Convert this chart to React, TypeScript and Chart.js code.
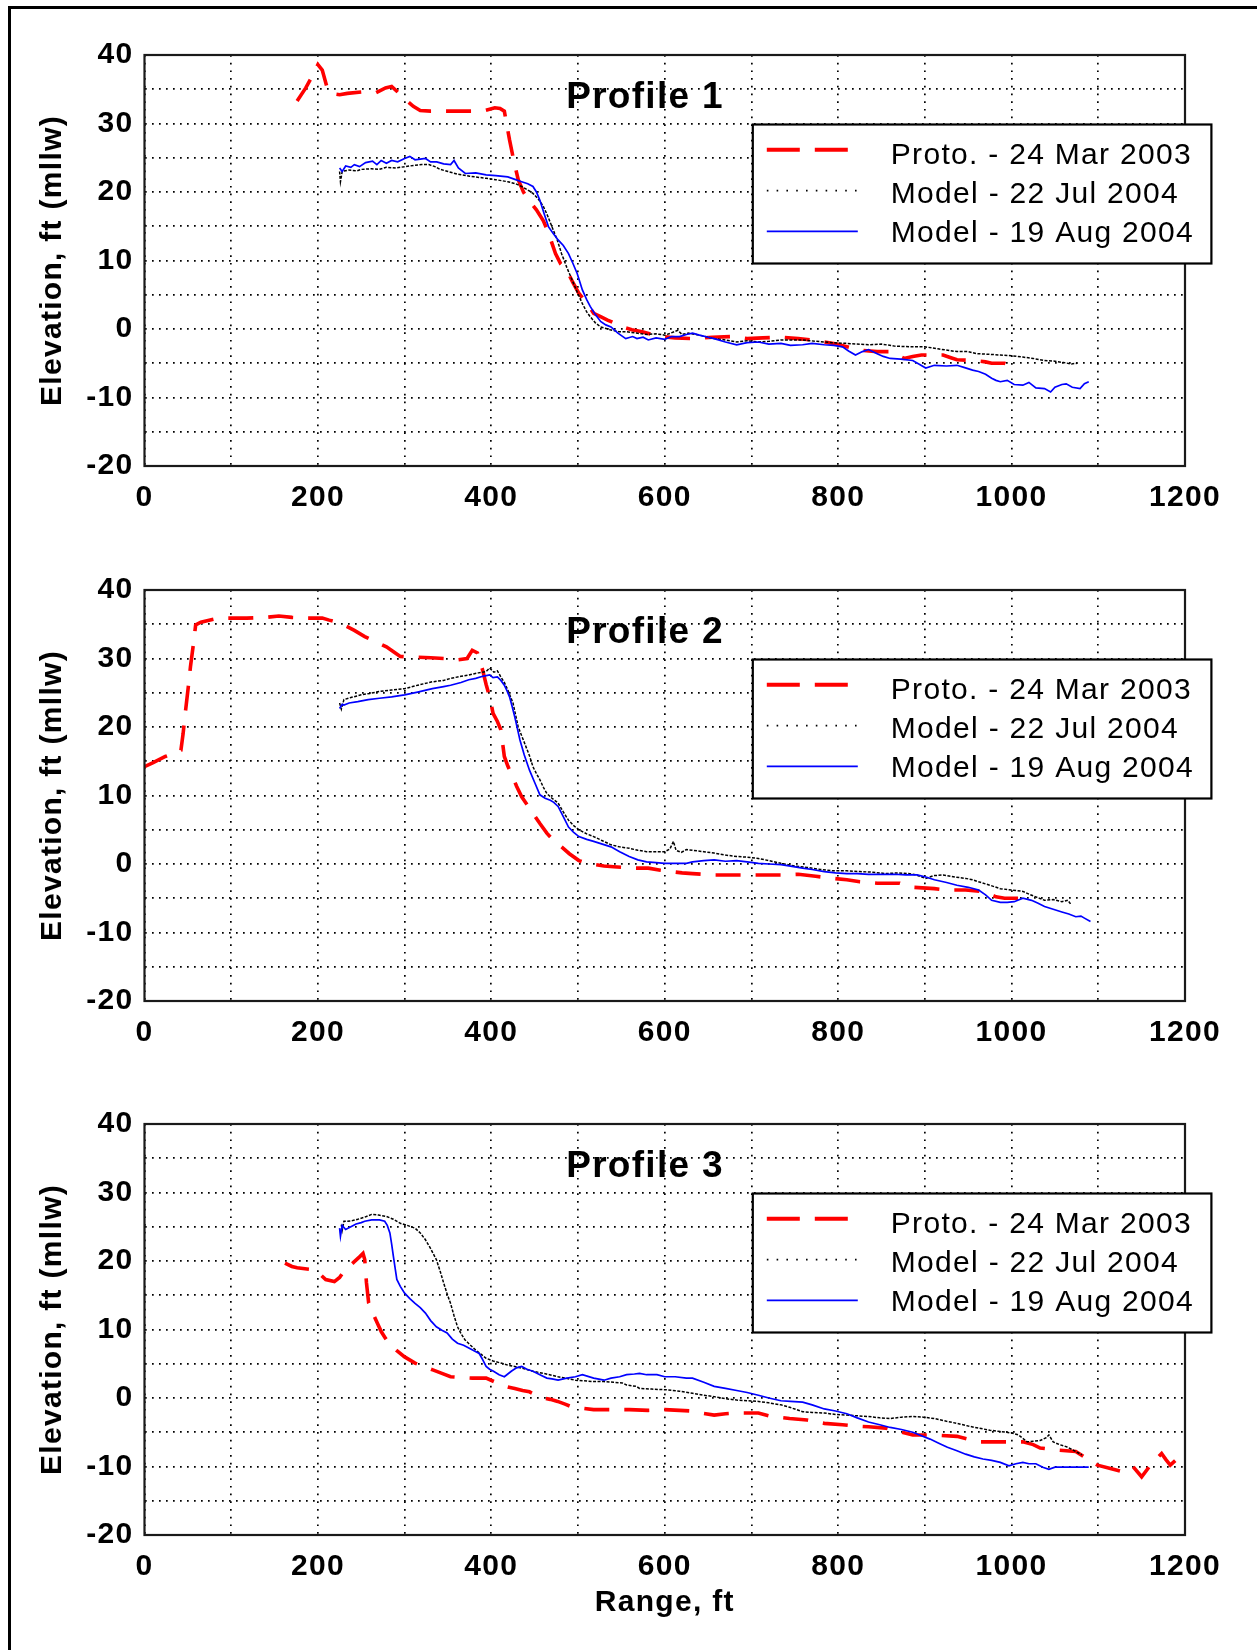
import React, { useEffect, useRef } from 'react';
import { Chart, registerables } from 'chart.js';

Chart.register(...registerables);

type Pt = [number, number];

const FONT = '"Liberation Sans", Arial, Helvetica, sans-serif';

const seriesLabels = ['Proto. - 24 Mar 2003', 'Model - 22 Jul 2004', 'Model - 19 Aug 2004'];
const seriesColors = ['#ff0000', '#000000', '#0000ff'];
const profileTitles = ['Profile 1', 'Profile 2', 'Profile 3'];
const xTickLabels = [0, 200, 400, 600, 800, 1000, 1200];
const yTickLabels = [-20, -10, 0, 10, 20, 30, 40];
const xAxisTitle = 'Range, ft';
const yAxisTitle = 'Elevation, ft (mllw)';

// ---------------- Profile 1 ----------------
const p1Proto: Pt[] = [
  [176, 33.3], [186, 35.2], [196, 37.5], [200, 38.6], [205, 37.8], [210, 35.5], [214, 34.4], [225, 34.2],
  [234, 34.4], [250, 34.6], [267, 34.5], [278, 35.2], [285, 35.4], [292, 34.6], [300, 33.6], [310, 32.5],
  [318, 31.9], [330, 31.8], [360, 31.8], [390, 31.8], [404, 32.3], [410, 32.2], [415, 31.8], [421, 27.6],
  [426, 24.5], [431, 21.8], [437, 20], [443, 18.8], [452, 17.4], [460, 15.8], [466, 14], [474, 11],
  [480, 9.5], [487, 8.6], [494, 6.8], [501, 5.2], [510, 3.8], [518, 2.3], [526, 1.8], [534, 1.3],
  [543, 0.8], [551, 0.3], [562, -0.1], [574, -0.4], [585, -0.8], [596, -1.1], [612, -1.3], [632, -1.4],
  [655, -1.2], [678, -1.1], [695, -1.4], [713, -1.3], [735, -1.2], [754, -1.4], [770, -1.6], [784, -1.9],
  [798, -2.2], [810, -2.6], [825, -3.1], [845, -3.3], [860, -3.3], [868, -3.8], [876, -4.3], [886, -4.0],
  [896, -3.8], [921, -3.8], [930, -4.2], [937, -4.5], [957, -4.6], [970, -4.8], [977, -5], [992, -5],
  [1000, -5.4],
];
const p1Jul: Pt[] = [
  [225, 23.0], [226, 21.5], [228, 23.0], [235, 23.2], [245, 23.1], [250, 23.3], [262, 23.4], [270, 23.3],
  [279, 23.6], [290, 23.5], [300, 23.7], [312, 23.9], [320, 24.0], [328, 24.0], [335, 23.7], [341, 23.3],
  [350, 23.0], [361, 22.6], [375, 22.3], [394, 22.0], [405, 21.8], [419, 21.5], [428, 21.2], [435, 20.8],
  [442, 20.3], [448, 19.8], [454, 19.0], [460, 17.9], [465, 16.5], [470, 14.9], [476, 13], [481, 11],
  [487, 9.0], [493, 7.2], [499, 5.4], [505, 3.7], [510, 2.5], [514, 1.8], [520, 0.9], [526, 0.3],
  [537, -0.1], [547, -0.4], [556, -0.4], [567, -0.6], [580, -0.8], [590, -0.7], [600, -0.9], [607, -0.6],
  [615, -0.2], [620, -0.8], [627, -0.6], [640, -0.9], [657, -1.4], [670, -1.6], [683, -1.9], [695, -1.7],
  [708, -1.9], [720, -1.8], [735, -1.6], [759, -1.6], [775, -1.8], [794, -2.0], [810, -2.1], [835, -2.3],
  [850, -2.2], [865, -2.5], [886, -2.6], [900, -2.6], [915, -2.9], [937, -3.3], [950, -3.3], [960, -3.6],
  [975, -3.7], [987, -3.8], [1000, -3.9], [1013, -4.1], [1025, -4.3], [1038, -4.6], [1050, -4.7], [1060, -4.9],
  [1069, -5.1], [1076, -5.0],
];
const p1Aug: Pt[] = [
  [225, 23.5], [228, 23.0], [232, 23.8], [238, 23.6], [242, 24.0], [248, 23.7], [255, 24.3], [263, 24.5],
  [268, 24.0], [273, 24.6], [279, 24.2], [285, 24.6], [292, 24.4], [300, 24.9], [306, 25.2], [312, 24.7],
  [318, 24.8], [324, 24.9], [330, 24.4], [337, 24.4], [345, 24.1], [353, 24.0], [357, 24.6], [362, 23.5],
  [370, 22.7], [382, 22.8], [394, 22.5], [405, 22.4], [419, 22.2], [428, 21.8], [435, 21.5], [442, 21.2],
  [448, 20.8], [452, 20.0], [456, 18.8], [461, 16.8], [466, 14.9], [471, 14.0], [477, 13.0], [483, 12.2],
  [489, 11.0], [494, 9.6], [499, 8.1], [505, 5.7], [510, 4.3], [514, 3.3], [520, 2.1], [526, 1.1],
  [532, 0.6], [538, 0.3], [546, -0.6], [555, -1.4], [563, -1.1], [568, -1.4], [575, -1.2], [581, -1.6],
  [590, -1.3], [600, -1.5], [608, -1.1], [617, -1.1], [625, -0.8], [632, -0.6], [640, -0.9], [650, -1.2],
  [657, -1.4], [670, -1.9], [683, -2.3], [695, -2.0], [708, -1.9], [720, -2.2], [734, -2.1], [745, -2.4],
  [759, -2.3], [770, -2.1], [784, -2.3], [795, -2.4], [805, -2.6], [812, -3.2], [820, -3.8], [828, -3.3],
  [835, -3.0], [845, -3.6], [852, -4.0], [860, -4.3], [872, -4.4], [886, -4.6], [893, -5.1], [901, -5.7],
  [911, -5.3], [925, -5.4], [937, -5.3], [945, -5.6], [955, -6.0], [962, -6.2], [970, -6.6], [977, -7.2],
  [982, -7.5], [987, -7.7], [995, -7.5], [1003, -8.1], [1013, -8.2], [1020, -7.8], [1028, -8.6], [1038, -8.7],
  [1045, -9.2], [1050, -8.5], [1058, -8.1], [1063, -8.0], [1070, -8.5], [1079, -8.7], [1084, -8.0], [1089, -7.7],
];

// ---------------- Profile 2 ----------------
const p2Proto: Pt[] = [
  [0, 14.2], [10, 14.8], [24, 15.7], [35, 16.2], [42, 16.6], [44.5, 19], [47, 22], [51, 26.4],
  [53, 28.8], [56, 31.7], [59, 34.9], [65, 35.3], [86, 35.9], [118, 35.9], [140, 36.0], [155, 36.2],
  [170, 36.0], [188, 35.9], [205, 35.9], [213, 35.6], [222, 35.3], [230, 34.9], [242, 34.1], [254, 33.2],
  [266, 32.5], [279, 31.7], [288, 30.9], [295, 30.3], [312, 30.2], [330, 30.1], [345, 30.0], [361, 29.8],
  [372, 30.0], [378, 31.2], [384, 30.8], [390, 28.3], [394, 26.2], [398, 24.4], [402, 22.0], [407, 20.8],
  [411, 19.6], [415, 15.7], [419, 14.3], [423, 13.2], [429, 11.4], [435, 9.8], [442, 8.5], [448, 7.4],
  [456, 5.9], [464, 4.5], [472, 3.4], [481, 2.5], [490, 1.5], [501, 0.5], [510, 0.1], [520, -0.1],
  [530, -0.3], [541, -0.4], [561, -0.6], [581, -0.6], [595, -0.9], [607, -1.1], [620, -1.3], [632, -1.4],
  [657, -1.6], [683, -1.6], [708, -1.6], [734, -1.6], [754, -1.5], [774, -1.8], [794, -2.1], [810, -2.3],
  [825, -2.6], [845, -2.8], [871, -2.8], [886, -3.4], [911, -3.6], [926, -3.8], [947, -3.8], [967, -4.0],
  [982, -4.8], [992, -5.0], [1008, -5.0],
];
const p2Jul: Pt[] = [
  [225, 23.5], [227, 22.6], [230, 24.0], [238, 24.3], [250, 24.7], [260, 24.9], [271, 25.2], [285, 25.4],
  [300, 25.6], [315, 26.1], [332, 26.6], [345, 26.8], [353, 27.1], [365, 27.4], [374, 27.6], [385, 27.9],
  [394, 28.1], [398, 28.6], [403, 28.0], [407, 28.2], [411, 27.3], [415, 26.5], [419, 25.4], [425, 23.5],
  [431, 20.0], [436, 18.4], [440, 17.1], [444, 15.8], [448, 14.2], [452, 13.2], [456, 12.3], [460, 11.2],
  [464, 10.3], [470, 9.6], [477, 8.9], [483, 7.6], [489, 6.4], [495, 5.6], [501, 5.0], [510, 4.4],
  [518, 4.0], [528, 3.4], [538, 2.8], [548, 2.5], [559, 2.3], [569, 2.0], [579, 1.8], [590, 1.8],
  [600, 1.8], [606, 2.2], [610, 3.3], [613, 2.0], [619, 1.7], [625, 2.1], [632, 2.0], [645, 1.8],
  [657, 1.6], [670, 1.3], [683, 1.1], [695, 1.0], [708, 0.8], [720, 0.5], [734, 0.1], [750, -0.3],
  [764, -0.5], [780, -0.8], [794, -1.0], [810, -1.0], [825, -1.1], [840, -1.2], [855, -1.4], [870, -1.3],
  [881, -1.4], [890, -1.6], [901, -2.1], [910, -1.7], [921, -1.6], [935, -1.9], [947, -2.1], [955, -2.3],
  [962, -2.6], [975, -3.1], [987, -3.6], [1000, -3.8], [1013, -4.0], [1020, -4.4], [1028, -4.8], [1038, -5.3],
  [1048, -5.2], [1058, -5.5], [1065, -5.3], [1069, -6.0],
];
const p2Aug: Pt[] = [
  [225, 22.7], [228, 23.3], [230, 23.2], [236, 23.5], [246, 23.7], [258, 24.0], [271, 24.2], [285, 24.4],
  [300, 24.7], [315, 25.1], [332, 25.6], [345, 25.9], [353, 26.1], [365, 26.5], [374, 26.9], [382, 27.1],
  [390, 27.4], [398, 27.6], [402, 27.2], [407, 27.3], [411, 26.8], [415, 26.1], [418, 25.3], [421, 24.4],
  [424, 23.0], [427, 21.5], [430, 19.8], [433, 18.1], [438, 15.9], [444, 13.7], [450, 11.9], [456, 10.1],
  [462, 9.6], [468, 9.3], [472, 9.0], [477, 8.4], [483, 6.9], [489, 5.4], [495, 4.6], [501, 4.0],
  [510, 3.6], [518, 3.3], [528, 2.9], [538, 2.5], [548, 1.8], [559, 1.1], [569, 0.6], [579, 0.3],
  [590, 0.2], [600, 0.1], [612, 0.1], [625, 0.1], [632, 0.3], [645, 0.5], [657, 0.6], [670, 0.4],
  [683, 0.5], [695, 0.3], [708, 0.1], [720, 0.0], [734, -0.1], [745, -0.3], [759, -0.6], [770, -0.8],
  [784, -1.1], [797, -1.3], [810, -1.4], [822, -1.4], [835, -1.5], [850, -1.5], [865, -1.5], [878, -1.6],
  [891, -1.6], [901, -1.9], [911, -2.3], [925, -2.7], [937, -3.1], [950, -3.4], [962, -3.8], [970, -4.5],
  [977, -5.3], [987, -5.6], [995, -5.6], [1003, -5.5], [1013, -5.0], [1023, -5.3], [1030, -5.7], [1038, -6.2],
  [1048, -6.6], [1058, -7.0], [1066, -7.3], [1074, -7.7], [1080, -7.6], [1084, -7.9], [1091, -8.4],
];

// ---------------- Profile 3 ----------------
const p3Proto: Pt[] = [
  [162, 19.7], [170, 19.2], [176, 19.0], [190, 18.8], [197, 18.7], [203, 18.0], [209, 17.3], [219, 17.0],
  [225, 17.6], [230, 18.5], [236, 19.2], [242, 19.9], [248, 20.6], [252, 21.1], [254, 20.2], [256, 16.8],
  [258.5, 13.9], [262, 12.8], [265, 11.9], [269, 10.8], [273, 9.7], [278, 8.7], [283, 7.8], [291, 6.9],
  [300, 6.0], [312, 5.1], [322, 4.6], [332.5, 4.1], [343, 3.6], [353, 3.1], [365, 3.0], [378, 2.9],
  [394, 2.9], [403, 2.4], [411, 1.9], [419, 1.6], [427, 1.4], [436, 1.1], [444, 0.9], [452, 0.4],
  [460, 0.0], [468, -0.2], [476.5, -0.5], [485, -0.9], [493, -1.3], [505, -1.5], [518, -1.7], [530, -1.7],
  [559, -1.7], [581, -1.8], [600, -1.7], [617, -1.8], [630, -1.9], [642, -2.2], [657, -2.5], [670, -2.3],
  [683, -2.2], [708, -2.2], [723, -2.7], [744, -3.0], [764, -3.2], [784, -3.7], [805, -3.9], [820, -4.1],
  [835, -4.2], [855, -4.4], [870, -4.9], [886, -5.4], [911, -5.4], [937, -5.6], [950, -6.0], [962, -6.4],
  [987, -6.4], [1013, -6.4], [1025, -6.8], [1033, -7.3], [1053, -7.6], [1074, -7.8], [1086, -8.8], [1099, -9.8],
  [1114, -10.3], [1129, -10.8], [1140, -10.0], [1150, -11.5], [1162, -9.5], [1173, -8.1], [1178, -9.0], [1183, -9.8],
  [1190, -9.0], [1195, -8.6], [1200, -8.6],
];
const p3Jul: Pt[] = [
  [227, 25.3], [228, 24.5], [230, 25.8], [234, 25.8], [240, 25.9], [246, 26.1], [254, 26.4], [262, 26.8],
  [270, 26.7], [279, 26.5], [287, 26.1], [295, 25.5], [303, 25.2], [312, 24.8], [318, 24.1], [324, 23.1],
  [330, 21.8], [336.6, 20.2], [341, 18.5], [345, 16.8], [349, 15.2], [353, 13.8], [357, 12.0], [361, 10.4],
  [365, 9.4], [369.5, 8.5], [376, 7.7], [382, 7.0], [388, 6.4], [394, 5.8], [402, 5.4], [411, 5.1],
  [419, 4.8], [427, 4.6], [437, 4.3], [448, 3.9], [460, 3.6], [477, 3.1], [497, 2.6], [518, 2.4],
  [530, 2.4], [541, 2.3], [551, 2.2], [556, 1.9], [567, 1.7], [571, 1.4], [585, 1.3], [602, 1.2],
  [617, 1.0], [632, 0.7], [645, 0.4], [657, 0.2], [670, -0.1], [683, -0.3], [695, -0.4], [708, -0.5],
  [720, -0.7], [734, -1.0], [745, -1.4], [759, -2.0], [770, -2.1], [784, -2.2], [797, -2.4], [810, -2.5],
  [822, -2.6], [835, -2.7], [848, -2.9], [860, -3.0], [873, -2.8], [886, -2.7], [898, -2.8], [911, -3.0],
  [925, -3.4], [937, -3.7], [950, -4.1], [962, -4.4], [975, -4.7], [987, -4.9], [1000, -5.1], [1008, -5.4],
  [1018, -6.4], [1025, -6.3], [1033, -6.2], [1040, -5.8], [1043, -5.4], [1048, -6.4], [1055, -6.8], [1063, -7.1],
  [1074, -7.8], [1081, -8.3],
];
const p3Aug: Pt[] = [
  [225, 24.8], [226, 23.6], [228, 25.2], [232, 24.6], [238, 25.0], [244, 25.4], [250, 25.6], [254, 25.8],
  [262, 26.0], [271, 26.0], [277, 25.8], [280, 25.2], [283, 24.1], [285, 22.5], [287, 20.7], [289, 19.0],
  [291, 17.3], [295, 16.3], [300, 15.3], [306, 14.5], [312, 13.8], [318, 13.2], [324, 12.4], [330, 11.3],
  [336.6, 10.4], [343, 9.9], [349, 9.5], [355, 8.6], [361, 8.0], [368, 7.7], [374, 7.3], [380, 6.9],
  [386, 6.5], [390, 5.6], [394, 4.6], [398, 4.2], [402.5, 3.9], [409, 3.4], [415, 3.1], [419, 3.5],
  [423, 3.9], [429, 4.4], [435, 4.6], [441, 4.2], [448, 3.9], [456, 3.4], [464, 2.9], [470, 2.8],
  [477, 2.6], [487, 2.9], [497, 3.1], [505, 3.4], [518, 2.9], [530, 2.6], [538, 2.9], [548, 3.1],
  [556, 3.4], [565, 3.5], [571, 3.6], [579, 3.4], [591, 3.4], [600, 3.1], [612, 3.1], [625, 2.9],
  [632, 2.9], [645, 2.3], [657, 1.7], [670, 1.4], [683, 1.1], [695, 0.8], [708, 0.4], [720, 0.0],
  [734, -0.4], [745, -0.5], [759, -0.6], [770, -1.0], [784, -1.6], [797, -1.9], [810, -2.3], [822, -2.9],
  [835, -3.5], [848, -3.9], [860, -4.3], [873, -4.6], [886, -5.0], [896, -5.5], [906, -6.0], [916, -6.6],
  [926, -7.2], [937, -7.7], [947, -8.2], [957, -8.6], [967, -8.9], [977, -9.1], [987, -9.4], [997, -9.9],
  [1005, -9.6], [1013, -9.4], [1020, -9.6], [1028, -9.6], [1036, -10.1], [1043, -10.4], [1050, -10.1], [1063, -10.1],
  [1075, -10.1], [1089, -10.1],
];

const profileSeries: Pt[][][] = [
  [p1Proto, p1Jul, p1Aug],
  [p2Proto, p2Jul, p2Aug],
  [p3Proto, p3Jul, p3Aug],
];

// ---------------- styles / layout ----------------
const lineWidths = [3.6, 1.5, 1.7];
const lineDashes = [[25, 15], [3, 1.5], []];
const legendWidths = [4, 1.6, 1.8];
const legendDashes = [[33, 15], [1.6, 8.2], []];
const drawOrder = [2, 1, 0];

const PAGE_W = 1257;
const panelTops = [0, 535, 1069];
const panelHeights = [535, 535, 581];
const LETTER = '1.3px';

const decorPlugin = {
  id: 'decor',
  beforeDraw(chart: any) {
    chart.ctx.letterSpacing = LETTER;
  },
  afterDraw(chart: any, _args: any, opts: any) {
    const { ctx, chartArea: a } = chart;
    ctx.save();
    ctx.letterSpacing = LETTER;
    ctx.setLineDash([]);
    // plot frame
    ctx.strokeStyle = '#1a1a1a';
    ctx.lineWidth = 2.2;
    ctx.strokeRect(a.left, a.top, a.right - a.left, a.bottom - a.top);
    // panel title
    ctx.fillStyle = '#000';
    ctx.font = `bold 37px ${FONT}`;
    ctx.textAlign = 'center';
    ctx.textBaseline = 'alphabetic';
    ctx.fillText(opts.title, a.left + 500.5, a.top + 52.5);
    // legend box
    const lx = a.left + 608.3;
    const ly = a.top + 69.5;
    const lw = 458.6;
    const lh = 139;
    ctx.fillStyle = '#fff';
    ctx.fillRect(lx, ly, lw, lh);
    ctx.strokeStyle = '#000';
    ctx.lineWidth = 2.2;
    ctx.strokeRect(lx, ly, lw, lh);
    ctx.font = `30px ${FONT}`;
    ctx.textAlign = 'left';
    chart.data.datasets.forEach((ds: any, i: number) => {
      const yLine = ly + 25.3 + i * 40.8;
      ctx.save();
      ctx.strokeStyle = ds.borderColor;
      ctx.lineWidth = legendWidths[i];
      ctx.setLineDash(legendDashes[i]);
      ctx.beginPath();
      ctx.moveTo(lx + 14, yLine);
      ctx.lineTo(lx + 105, yLine);
      ctx.stroke();
      ctx.restore();
      ctx.fillStyle = '#000';
      ctx.fillText(ds.label, lx + 138, ly + 39.3 + i * 38.9);
    });
    ctx.restore();
  },
};

function Panel({ index }: { index: number }) {
  const ref = useRef<HTMLCanvasElement | null>(null);
  useEffect(() => {
    if (!ref.current) return;
    const isLast = index === panelTops.length - 1;
    const H = panelHeights[index];
    const tickFont = { family: FONT, size: 30, weight: 'bold' as const };
    const chart = new Chart(ref.current, {
      type: 'line',
      data: {
        datasets: profileSeries[index].map((pts, i) => ({
          label: seriesLabels[i],
          data: pts.map(([x, y]) => ({ x, y })),
          borderColor: seriesColors[i],
          backgroundColor: seriesColors[i],
          borderWidth: lineWidths[i],
          borderDash: lineDashes[i],
          pointRadius: 0,
          fill: false,
          tension: 0,
          order: drawOrder[i],
        })),
      },
      options: {
        animation: false,
        responsive: false,
        devicePixelRatio: 1,
        events: [],
        layout: { padding: { left: 0, right: PAGE_W - 1185, top: 55, bottom: 0 } },
        plugins: {
          legend: { display: false },
          tooltip: { enabled: false },
          title: { display: false },
          decor: { title: profileTitles[index] },
        } as any,
        scales: {
          x: {
            type: 'linear',
            min: 0,
            max: 1200,
            afterFit: (s: any) => {
              s.height = H - 466;
            },
            ticks: {
              stepSize: 100,
              autoSkip: false,
              maxRotation: 0,
              minRotation: 0,
              padding: 14,
              color: '#000',
              font: tickFont,
              callback: (v: any) => (xTickLabels.includes(Number(v)) ? String(v) : ''),
            },
            grid: { color: '#000', lineWidth: 1.7, drawTicks: false },
            border: { display: false, dash: [1.7, 6] },
            title: {
              display: isLast,
              text: xAxisTitle,
              color: '#000',
              font: { family: FONT, size: 30, weight: 'bold' },
              padding: { top: 0, bottom: 29.5 },
            },
          },
          y: {
            type: 'linear',
            min: -20,
            max: 40,
            afterFit: (s: any) => {
              s.width = 144.5;
            },
            ticks: {
              stepSize: 5,
              autoSkip: false,
              padding: 11,
              color: '#000',
              font: tickFont,
              callback: (v: any) => (yTickLabels.includes(Number(v)) ? String(v) : ''),
            },
            grid: { color: '#000', lineWidth: 1.7, drawTicks: false },
            border: { display: false, dash: [1.7, 5.3] },
            title: {
              display: true,
              text: yAxisTitle,
              color: '#000',
              font: { family: FONT, size: 30, weight: 'bold' },
              padding: { top: 35, bottom: 0 },
            },
          },
        },
      } as any,
      plugins: [decorPlugin],
    });
    return () => chart.destroy();
  }, [index]);

  return (
    <canvas
      ref={ref}
      width={PAGE_W}
      height={panelHeights[index]}
      style={{
        position: 'absolute',
        left: 0,
        top: panelTops[index],
        width: PAGE_W,
        height: panelHeights[index],
      }}
    />
  );
}

export default function App() {
  return (
    <div
      style={{
        position: 'absolute',
        left: 0,
        top: 0,
        width: PAGE_W,
        height: 1650,
        background: '#fff',
        overflow: 'hidden',
      }}
    >
      <div
        style={{
          position: 'absolute',
          left: 8,
          top: 6,
          width: PAGE_W,
          height: 1700,
          borderLeft: '3px solid #000',
          borderTop: '3px solid #000',
        }}
      />
      {panelTops.map((_, i) => (
        <Panel key={i} index={i} />
      ))}
    </div>
  );
}
